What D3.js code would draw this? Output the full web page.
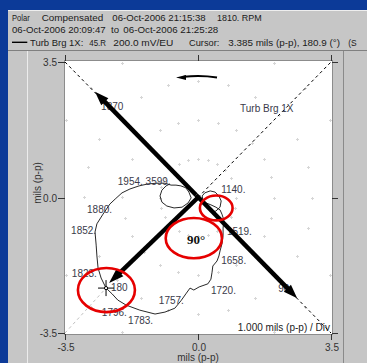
<!DOCTYPE html>
<html>
<head>
<meta charset="utf-8">
<script src="https://cdn.jsdelivr.net/npm/d3@7"></script>
<style>
html, body { margin: 0; padding: 0; background: #0c3a98; overflow: hidden; }
svg { display: block; font-family: "Liberation Sans", Arial, sans-serif; }
</style>
</head>
<body>
<div id="chart"></div>
<script>
'use strict';

// ─── Data (mils p-p) ───────────────────────────────────────────────────────
const axisTicks   = [-3.5, 0, 3.5];
const tickLabels  = ['-3.5', '0.0', '3.5'];
const gridRadii   = [1, 2, 3, 4];
const gridAngles  = [0, 15, 30, 45, 60, 75, 90, 105, 120, 135, 150, 165,
                     180, 195, 210, 225, 240, 255, 270, 285, 300, 315, 330, 345];

// polar trace, coast-down 3599 -> 1140 rpm
const traceX = [-0.74, -0.84, -0.95, -1.00, -0.95, -0.82, -0.63, -0.42, -0.26, -0.18,
                -0.24, -0.32, -0.45, -0.58, -0.71, -0.87, -1.08, -1.32, -1.55, -1.79,
                -2.00, -2.18, -2.32, -2.50, -2.66, -2.71, -2.68, -2.66, -2.63, -2.55,
                -2.42, -2.26, -2.11, -1.89, -1.53, -1.13, -0.87, -0.61, -0.45, -0.32,
                -0.21, -0.11, 0.03, 0.26, 0.34, 0.37, 0.39, 0.50, 0.55, 0.58,
                0.63, 0.66, 0.66, 0.68, 0.63, 0.58, 0.47, 0.34, 0.21, 0.13,
                0.11, 0.18, 0.32, 0.45, 0.55, 0.61, 0.58, 0.47, 0.37];
const traceY = [0.35, 0.30, 0.19, 0.04, -0.12, -0.22, -0.27, -0.25, -0.14, -0.01,
                0.14, 0.25, 0.30, 0.32, 0.32, 0.37, 0.37, 0.35, 0.30, 0.22,
                0.12, -0.04, -0.17, -0.43, -0.68, -0.89, -1.23, -1.51, -1.82, -2.08,
                -2.34, -2.49, -2.65, -2.78, -2.91, -3.01, -2.96, -2.86, -2.67, -2.49,
                -2.34, -2.39, -2.31, -2.23, -2.11, -1.93, -1.77, -1.64, -1.51, -1.38,
                -1.20, -0.99, -0.79, -0.58, -0.43, -0.32, -0.25, -0.19, -0.14, -0.06,
                0.04, 0.12, 0.17, 0.14, 0.04, -0.09, -0.25, -0.35, -0.37];

const rpmLabels = ['1954. 3599.', '1880.', '1852.', '1823.', '180', '1796.', '1783.',
                   '1757.', '1720.', '1658.', '1519.', '1140.', '1870', '90'];
const rpmX = [-2.11, -2.92, -3.34, -3.32, -2.29, -2.53, -1.84, -1.03, 0.34, 0.61, 0.76, 0.61, -2.55, 2.11];
const rpmY = [0.32, -0.40, -0.94, -2.05, -2.42, -3.06, -3.27, -2.75, -2.49, -1.72, -0.97, 0.12, 2.26, -2.44];

const cursorPoint = [-2.42, -2.34];

// hand annotations
const axisArrowNW = [-2.71, 2.73];
const axisArrowSE = [2.61, -2.60];
const highSpotTip = [-2.34, -2.21];
const ellipseCX = [-2.41, -0.11, 0.48];
const ellipseCY = [-2.39, -1.05, -0.27];
const ellipseRX = [0.75, 0.74, 0.43];
const ellipseRY = [0.57, 0.52, 0.32];
const rotationArc = { r: 3.2, from: 81, to: 99 };

// ─── Layout ────────────────────────────────────────────────────────────────
const W = 367, H = 363;
const x = d3.scaleLinear().domain([-3.5, 3.5]).range([65, 331]);
const y = d3.scaleLinear().domain([-3.5, 3.5]).range([333, 62]);
const PL = 65, PT = 61, PR = 332, PB = 334;

const svg = d3.select('#chart').append('svg')
    .attr('width', W).attr('height', H);

// window chrome
svg.append('rect').attr('width', W).attr('height', H).attr('fill', '#0c3a98');
svg.append('rect').attr('x', 8).attr('y', 10).attr('width', W - 8).attr('height', H - 10).attr('fill', '#c6c6c6');
svg.append('line').attr('x1', 8).attr('x2', W).attr('y1', 10.5).attr('y2', 10.5).attr('stroke', '#eeeeee');
svg.append('line').attr('x1', 8).attr('x2', W).attr('y1', 50.5).attr('y2', 50.5).attr('stroke', '#808080');
svg.append('line').attr('x1', 27.5).attr('x2', 27.5).attr('y1', 51).attr('y2', H).attr('stroke', '#ececec');
svg.append('line').attr('x1', 343.5).attr('x2', 343.5).attr('y1', 51).attr('y2', H).attr('stroke', '#8a8a8a');

// header
const header = [
    [20.5, [['Polar', 12, 17.7], ['Compensated', 41.7, 61.6], ['06-Oct-2006 21:15:38', 112.3, 93.4], ['1810. RPM', 217, 44.7]]],
    [33.3, [['06-Oct-2006 20:09:47', 12, 93.7], ['to', 111, 8], ['06-Oct-2006 21:25:28', 123.3, 95]]],
    [45.6, [['Turb Brg 1X:', 30, 53.3], ['45.R', 89.3, 16.7], ['200.0 mV/EU', 113.3, 60],
            ['Cursor:', 189, 30.3], ['3.385 mils (p-p), 180.9 (\u00b0)', 228.3, 111.7], ['(S', 348.3, 8.4]]]
];
header.forEach(function (row) {
    row[1].forEach(function (c) {
        svg.append('text').attr('x', c[1]).attr('y', row[0])
            .attr('font-size', 9.5).attr('fill', '#1a1a1a')
            .attr('textLength', c[2]).attr('lengthAdjust', 'spacingAndGlyphs')
            .text(c[0]);
    });
});
svg.append('line').attr('x1', 12).attr('x2', 27.3).attr('y1', 42.3).attr('y2', 42.3)
    .attr('stroke', '#000').attr('stroke-width', 1.4);

// plot frame
svg.append('rect').attr('x', PL).attr('y', PT).attr('width', PR - PL).attr('height', PB - PT).attr('fill', '#fff');
svg.append('rect').attr('x', PL - 0.5).attr('y', PT - 0.5).attr('width', PR - PL + 1).attr('height', PB - PT + 1)
    .attr('fill', 'none').attr('stroke', '#8c8c8c');

const ticks = svg.append('g').attr('stroke', '#333').attr('stroke-width', 1);
axisTicks.forEach(function (v) {
    const px = Math.round(x(v)) + 0.5, py = Math.round(y(v)) + 0.5;
    ticks.append('line').attr('x1', 58).attr('x2', PL).attr('y1', py).attr('y2', py);
    ticks.append('line').attr('x1', PR).attr('x2', PR + 6).attr('y1', py).attr('y2', py);
    ticks.append('line').attr('x1', px).attr('x2', px).attr('y1', PT - 6).attr('y2', PT);
    ticks.append('line').attr('x1', px).attr('x2', px).attr('y1', PB).attr('y2', PB + 6);
});
axisTicks.forEach(function (v, i) {
    svg.append('text').attr('x', 57).attr('y', y(v) + 4).attr('text-anchor', 'end')
        .attr('font-size', 10).attr('fill', '#333').text(tickLabels[i]);
    svg.append('text').attr('x', x(v) + 1).attr('y', 351).attr('text-anchor', 'middle')
        .attr('font-size', 10).attr('fill', '#333').text(tickLabels[i]);
});
svg.append('text').attr('x', 198).attr('y', 361).attr('text-anchor', 'middle')
    .attr('font-size', 10).attr('fill', '#333').text('mils (p-p)');
svg.append('text').attr('transform', 'translate(41,183) rotate(-90)').attr('text-anchor', 'middle')
    .attr('font-size', 10).attr('fill', '#333').text('mils (p-p)');

// plot contents (clipped)
svg.append('clipPath').attr('id', 'plotClip').append('rect')
    .attr('x', PL).attr('y', PT).attr('width', PR - PL).attr('height', PB - PT);
const plot = svg.append('g').attr('clip-path', 'url(#plotClip)');

// polar grid crosses
const gridPts = [];
gridRadii.forEach(function (r) {
    gridAngles.forEach(function (a) {
        const t = a * Math.PI / 180;
        gridPts.push([x(r * Math.cos(t)), y(r * Math.sin(t))]);
    });
});
plot.append('g').attr('stroke', '#d6d6d6').attr('stroke-width', 1)
    .selectAll('path').data(gridPts).enter().append('path')
    .attr('d', function (d) {
        const cx = Math.round(d[0]) + 0.5, cy = Math.round(d[1]) + 0.5;
        return 'M' + (cx - 1.5) + ',' + cy + 'H' + (cx + 1.5) + 'M' + cx + ',' + (cy - 1.5) + 'V' + (cy + 1.5);
    });

// dashed diagonals
plot.append('line').attr('x1', x(-3.5)).attr('y1', y(3.5)).attr('x2', x(3.5)).attr('y2', y(-3.5))
    .attr('stroke', '#000').attr('stroke-dasharray', '3,3');
plot.append('line').attr('x1', x(0)).attr('y1', y(0)).attr('x2', x(3.5)).attr('y2', y(3.5))
    .attr('stroke', '#000').attr('stroke-dasharray', '3,3');
plot.append('line').attr('x1', x(-3.5)).attr('y1', y(-3.5)).attr('x2', x(cursorPoint[0])).attr('y2', y(cursorPoint[1]))
    .attr('stroke', '#c0c0c0').attr('stroke-dasharray', '3,3');

// trace
const trace = traceX.map(function (v, i) { return [v, traceY[i]]; });
plot.append('path').datum(trace)
    .attr('d', d3.line().x(function (d) { return x(d[0]); }).y(function (d) { return y(d[1]); }))
    .attr('fill', 'none').attr('stroke', '#111').attr('stroke-width', 0.9);

// rpm labels
plot.append('g').selectAll('text').data(rpmLabels).enter().append('text')
    .attr('x', function (d, i) { return x(rpmX[i]); })
    .attr('y', function (d, i) { return y(rpmY[i]); })
    .attr('font-size', 10).attr('fill', '#3a3a4a')
    .text(function (d) { return d; });

plot.append('text').attr('x', 240).attr('y', 112).attr('font-size', 10).attr('fill', '#3a3a4a').text('Turb Brg 1X');
plot.append('text').attr('x', 330).attr('y', 331).attr('text-anchor', 'end')
    .attr('font-size', 10).attr('fill', '#222').text('1.000 mils (p-p) / Div');

// thick arrows
function arrow(g, p0, p1, len, hw, width) {
    const x0 = x(p0[0]), y0 = y(p0[1]), x1 = x(p1[0]), y1 = y(p1[1]);
    const dx = x1 - x0, dy = y1 - y0, L = Math.hypot(dx, dy), ux = dx / L, uy = dy / L;
    const bx = x1 - ux * len, by = y1 - uy * len;
    g.append('line').attr('x1', x0).attr('y1', y0).attr('x2', bx + ux * 2).attr('y2', by + uy * 2)
        .attr('stroke', '#000').attr('stroke-width', width);
    g.append('path').attr('fill', '#000')
        .attr('d', 'M' + x1 + ',' + y1 + 'L' + (bx - uy * hw) + ',' + (by + ux * hw) +
                   'L' + (bx + uy * hw) + ',' + (by - ux * hw) + 'Z');
}
const arrows = plot.append('g');
const mid = [(axisArrowNW[0] + axisArrowSE[0]) / 2, (axisArrowNW[1] + axisArrowSE[1]) / 2];
arrow(arrows, mid, axisArrowNW, 14, 5, 4.5);
arrow(arrows, mid, axisArrowSE, 14, 5, 4.5);
arrow(arrows, [0, 0], highSpotTip, 15, 5, 4.5);

// cursor marker
const cx0 = x(cursorPoint[0]), cy0 = y(cursorPoint[1]);
plot.append('path').attr('d', 'M' + (cx0 - 8) + ',' + cy0 + 'H' + (cx0 + 8) + 'M' + cx0 + ',' + (cy0 - 8) + 'V' + (cy0 + 8))
    .attr('stroke', '#000').attr('stroke-width', 1);
plot.append('circle').attr('cx', cx0).attr('cy', cy0).attr('r', 1.6)
    .attr('fill', '#fff').attr('stroke', '#000').attr('stroke-width', 1);

// rotation arrow
const rPx = x(rotationArc.r) - x(0);
const arcPath = d3.path();
const a0 = -rotationArc.from * Math.PI / 180, a1 = -rotationArc.to * Math.PI / 180;
arcPath.arc(x(0), y(0), rPx, a0, a1 + 0.04, true);
plot.append('path').attr('d', arcPath.toString()).attr('fill', 'none')
    .attr('stroke', '#000').attr('stroke-width', 2);
const tipX = x(0) + rPx * Math.cos(a1), tipY = y(0) + rPx * Math.sin(a1);
plot.append('path').attr('fill', '#000')
    .attr('d', 'M' + (tipX - 3) + ',' + tipY + 'L' + (tipX + 7) + ',' + (tipY - 2.5) + 'L' + (tipX + 7) + ',' + (tipY + 2.5) + 'Z');

// red ellipses
svg.append('g').selectAll('ellipse').data(ellipseCX).enter().append('ellipse')
    .attr('cx', function (d) { return x(d); })
    .attr('cy', function (d, i) { return y(ellipseCY[i]); })
    .attr('rx', function (d, i) { return x(ellipseRX[i]) - x(0); })
    .attr('ry', function (d, i) { return y(0) - y(ellipseRY[i]); })
    .attr('fill', 'none').attr('stroke', '#e60000').attr('stroke-width', 2.6);

svg.append('text').attr('x', x(-0.05)).attr('y', 244).attr('text-anchor', 'middle')
    .attr('font-family', '"Liberation Serif", "Times New Roman", serif')
    .attr('font-weight', 'bold').attr('font-size', 13).attr('fill', '#111').text('90\u00b0');
</script>
</body>
</html>
